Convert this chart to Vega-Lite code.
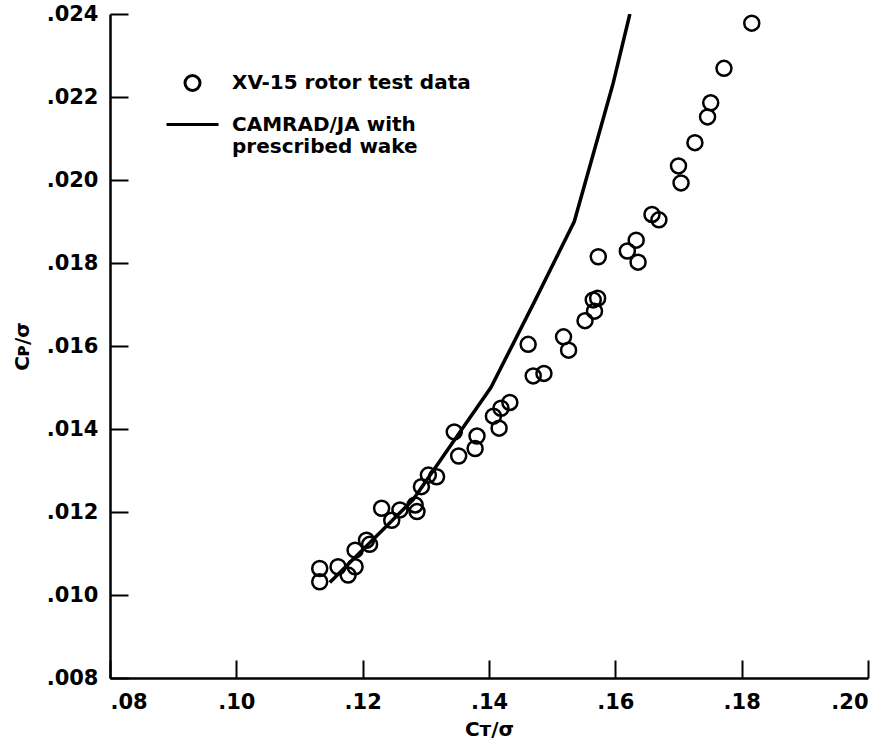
{
  "$schema": "https://vega.github.io/schema/vega-lite/v6.json",
  "width": 758,
  "height": 664,
  "autosize": "none",
  "padding": {"left": 110, "top": 14, "right": 26, "bottom": 73},
  "background": "white",
  "config": {
    "view": {"stroke": null},
    "font": "DejaVu Sans",
    "axis": {
      "domainColor": "black",
      "domainWidth": 2.5,
      "tickColor": "black",
      "tickWidth": 2,
      "tickSize": -18,
      "grid": false,
      "labelColor": "black",
      "labelFont": "DejaVu Sans",
      "labelFontWeight": "bold",
      "labelFontSize": 21,
      "titleFont": "DejaVu Sans",
      "titleFontWeight": "bold",
      "titleFontSize": 20,
      "titleColor": "black"
    }
  },
  "datasets": {
    "test": [
      {"ct": 0.1816, "cp": 0.02378, "series": "XV-15 rotor test data"},
      {"ct": 0.1772, "cp": 0.02269, "series": "XV-15 rotor test data"},
      {"ct": 0.1751, "cp": 0.02186, "series": "XV-15 rotor test data"},
      {"ct": 0.1746, "cp": 0.02152, "series": "XV-15 rotor test data"},
      {"ct": 0.1726, "cp": 0.02090, "series": "XV-15 rotor test data"},
      {"ct": 0.1700, "cp": 0.02034, "series": "XV-15 rotor test data"},
      {"ct": 0.1704, "cp": 0.01993, "series": "XV-15 rotor test data"},
      {"ct": 0.1658, "cp": 0.01917, "series": "XV-15 rotor test data"},
      {"ct": 0.1669, "cp": 0.01904, "series": "XV-15 rotor test data"},
      {"ct": 0.1633, "cp": 0.01855, "series": "XV-15 rotor test data"},
      {"ct": 0.1619, "cp": 0.01829, "series": "XV-15 rotor test data"},
      {"ct": 0.1636, "cp": 0.01802, "series": "XV-15 rotor test data"},
      {"ct": 0.1573, "cp": 0.01815, "series": "XV-15 rotor test data"},
      {"ct": 0.1572, "cp": 0.01715, "series": "XV-15 rotor test data"},
      {"ct": 0.1565, "cp": 0.01711, "series": "XV-15 rotor test data"},
      {"ct": 0.1567, "cp": 0.01684, "series": "XV-15 rotor test data"},
      {"ct": 0.1552, "cp": 0.01661, "series": "XV-15 rotor test data"},
      {"ct": 0.1518, "cp": 0.01622, "series": "XV-15 rotor test data"},
      {"ct": 0.1526, "cp": 0.01590, "series": "XV-15 rotor test data"},
      {"ct": 0.1462, "cp": 0.01604, "series": "XV-15 rotor test data"},
      {"ct": 0.1470, "cp": 0.01528, "series": "XV-15 rotor test data"},
      {"ct": 0.1487, "cp": 0.01534, "series": "XV-15 rotor test data"},
      {"ct": 0.1433, "cp": 0.01464, "series": "XV-15 rotor test data"},
      {"ct": 0.1419, "cp": 0.01450, "series": "XV-15 rotor test data"},
      {"ct": 0.1407, "cp": 0.01431, "series": "XV-15 rotor test data"},
      {"ct": 0.1416, "cp": 0.01402, "series": "XV-15 rotor test data"},
      {"ct": 0.1345, "cp": 0.01393, "series": "XV-15 rotor test data"},
      {"ct": 0.1381, "cp": 0.01383, "series": "XV-15 rotor test data"},
      {"ct": 0.1378, "cp": 0.01353, "series": "XV-15 rotor test data"},
      {"ct": 0.1352, "cp": 0.01335, "series": "XV-15 rotor test data"},
      {"ct": 0.1317, "cp": 0.01285, "series": "XV-15 rotor test data"},
      {"ct": 0.1304, "cp": 0.01289, "series": "XV-15 rotor test data"},
      {"ct": 0.1293, "cp": 0.01261, "series": "XV-15 rotor test data"},
      {"ct": 0.1283, "cp": 0.01217, "series": "XV-15 rotor test data"},
      {"ct": 0.1286, "cp": 0.01201, "series": "XV-15 rotor test data"},
      {"ct": 0.1230, "cp": 0.01209, "series": "XV-15 rotor test data"},
      {"ct": 0.1259, "cp": 0.01205, "series": "XV-15 rotor test data"},
      {"ct": 0.1246, "cp": 0.01180, "series": "XV-15 rotor test data"},
      {"ct": 0.1206, "cp": 0.01132, "series": "XV-15 rotor test data"},
      {"ct": 0.1188, "cp": 0.01108, "series": "XV-15 rotor test data"},
      {"ct": 0.1211, "cp": 0.01122, "series": "XV-15 rotor test data"},
      {"ct": 0.1132, "cp": 0.01064, "series": "XV-15 rotor test data"},
      {"ct": 0.1161, "cp": 0.01068, "series": "XV-15 rotor test data"},
      {"ct": 0.1188, "cp": 0.01068, "series": "XV-15 rotor test data"},
      {"ct": 0.1132, "cp": 0.01032, "series": "XV-15 rotor test data"},
      {"ct": 0.1177, "cp": 0.01048, "series": "XV-15 rotor test data"}
    ],
    "model": [
      {"ct": 0.1148, "cp": 0.0103},
      {"ct": 0.1280, "cp": 0.0123},
      {"ct": 0.1362, "cp": 0.0141},
      {"ct": 0.1403, "cp": 0.0150},
      {"ct": 0.1473, "cp": 0.0171},
      {"ct": 0.1535, "cp": 0.0190},
      {"ct": 0.1596, "cp": 0.0223},
      {"ct": 0.1623, "cp": 0.0240}
    ]
  },
  "encoding": {
    "x": {
      "field": "ct",
      "type": "quantitative",
      "scale": {"domain": [0.08, 0.2], "nice": false, "zero": false},
      "axis": {
        "title": "Cᴛ/σ",
        "values": [0.08, 0.1, 0.12, 0.14, 0.16, 0.18, 0.2],
        "labelExpr": "replace(format(datum.value, '.2f'), '0.', '.')",
        "labelPadding": 31,
        "titlePadding": 7
      }
    },
    "y": {
      "field": "cp",
      "type": "quantitative",
      "scale": {"domain": [0.008, 0.024], "nice": false, "zero": false},
      "axis": {
        "title": "Cᴘ/σ",
        "values": [0.008, 0.01, 0.012, 0.014, 0.016, 0.018, 0.02, 0.022, 0.024],
        "labelExpr": "replace(format(datum.value, '.3f'), '0.', '.')",
        "labelPadding": 30,
        "titlePadding": 14
      }
    }
  },
  "layer": [
    {
      "data": {"name": "model"},
      "mark": {"type": "line", "color": "black", "strokeWidth": 3.5, "clip": true}
    },
    {
      "data": {"name": "test"},
      "mark": {"type": "point", "filled": false, "color": "black", "strokeWidth": 2.5, "opacity": 1},
      "encoding": {
        "shape": {
          "field": "series",
          "type": "nominal",
          "scale": {
            "domain": ["XV-15 rotor test data", "CAMRAD/JA with prescribed wake"],
            "range": ["circle", "stroke"]
          },
          "legend": {
            "title": null,
            "orient": "none",
            "legendX": 55,
            "legendY": 59,
            "labelFont": "DejaVu Sans",
            "labelFontWeight": "bold",
            "labelFontSize": 20,
            "labelColor": "black",
            "labelLimit": 400,
            "labelOffset": 12,
            "rowPadding": -2,
            "symbolStrokeColor": "black",
            "symbolStrokeWidth": 3,
            "symbolOpacity": 1,
            "labelExpr": "datum.label == 'CAMRAD/JA with prescribed wake' ? ['CAMRAD/JA with', 'prescribed wake'] : datum.label",
            "encode": {"labels": {"lineHeight": {"value": 29}}}
          }
        },
        "size": {
          "field": "series",
          "type": "nominal",
          "scale": {
            "domain": ["XV-15 rotor test data", "CAMRAD/JA with prescribed wake"],
            "range": [225, 2700]
          },
          "legend": {
            "title": null,
            "orient": "none",
            "legendX": 55,
            "legendY": 59,
            "labelFont": "DejaVu Sans",
            "labelFontWeight": "bold",
            "labelFontSize": 20,
            "labelColor": "black",
            "labelLimit": 400,
            "labelOffset": 12,
            "rowPadding": -2,
            "symbolStrokeColor": "black",
            "symbolStrokeWidth": 3,
            "symbolOpacity": 1,
            "labelExpr": "datum.label == 'CAMRAD/JA with prescribed wake' ? ['CAMRAD/JA with', 'prescribed wake'] : datum.label",
            "encode": {"labels": {"lineHeight": {"value": 29}}}
          }
        }
      }
    }
  ]
}
